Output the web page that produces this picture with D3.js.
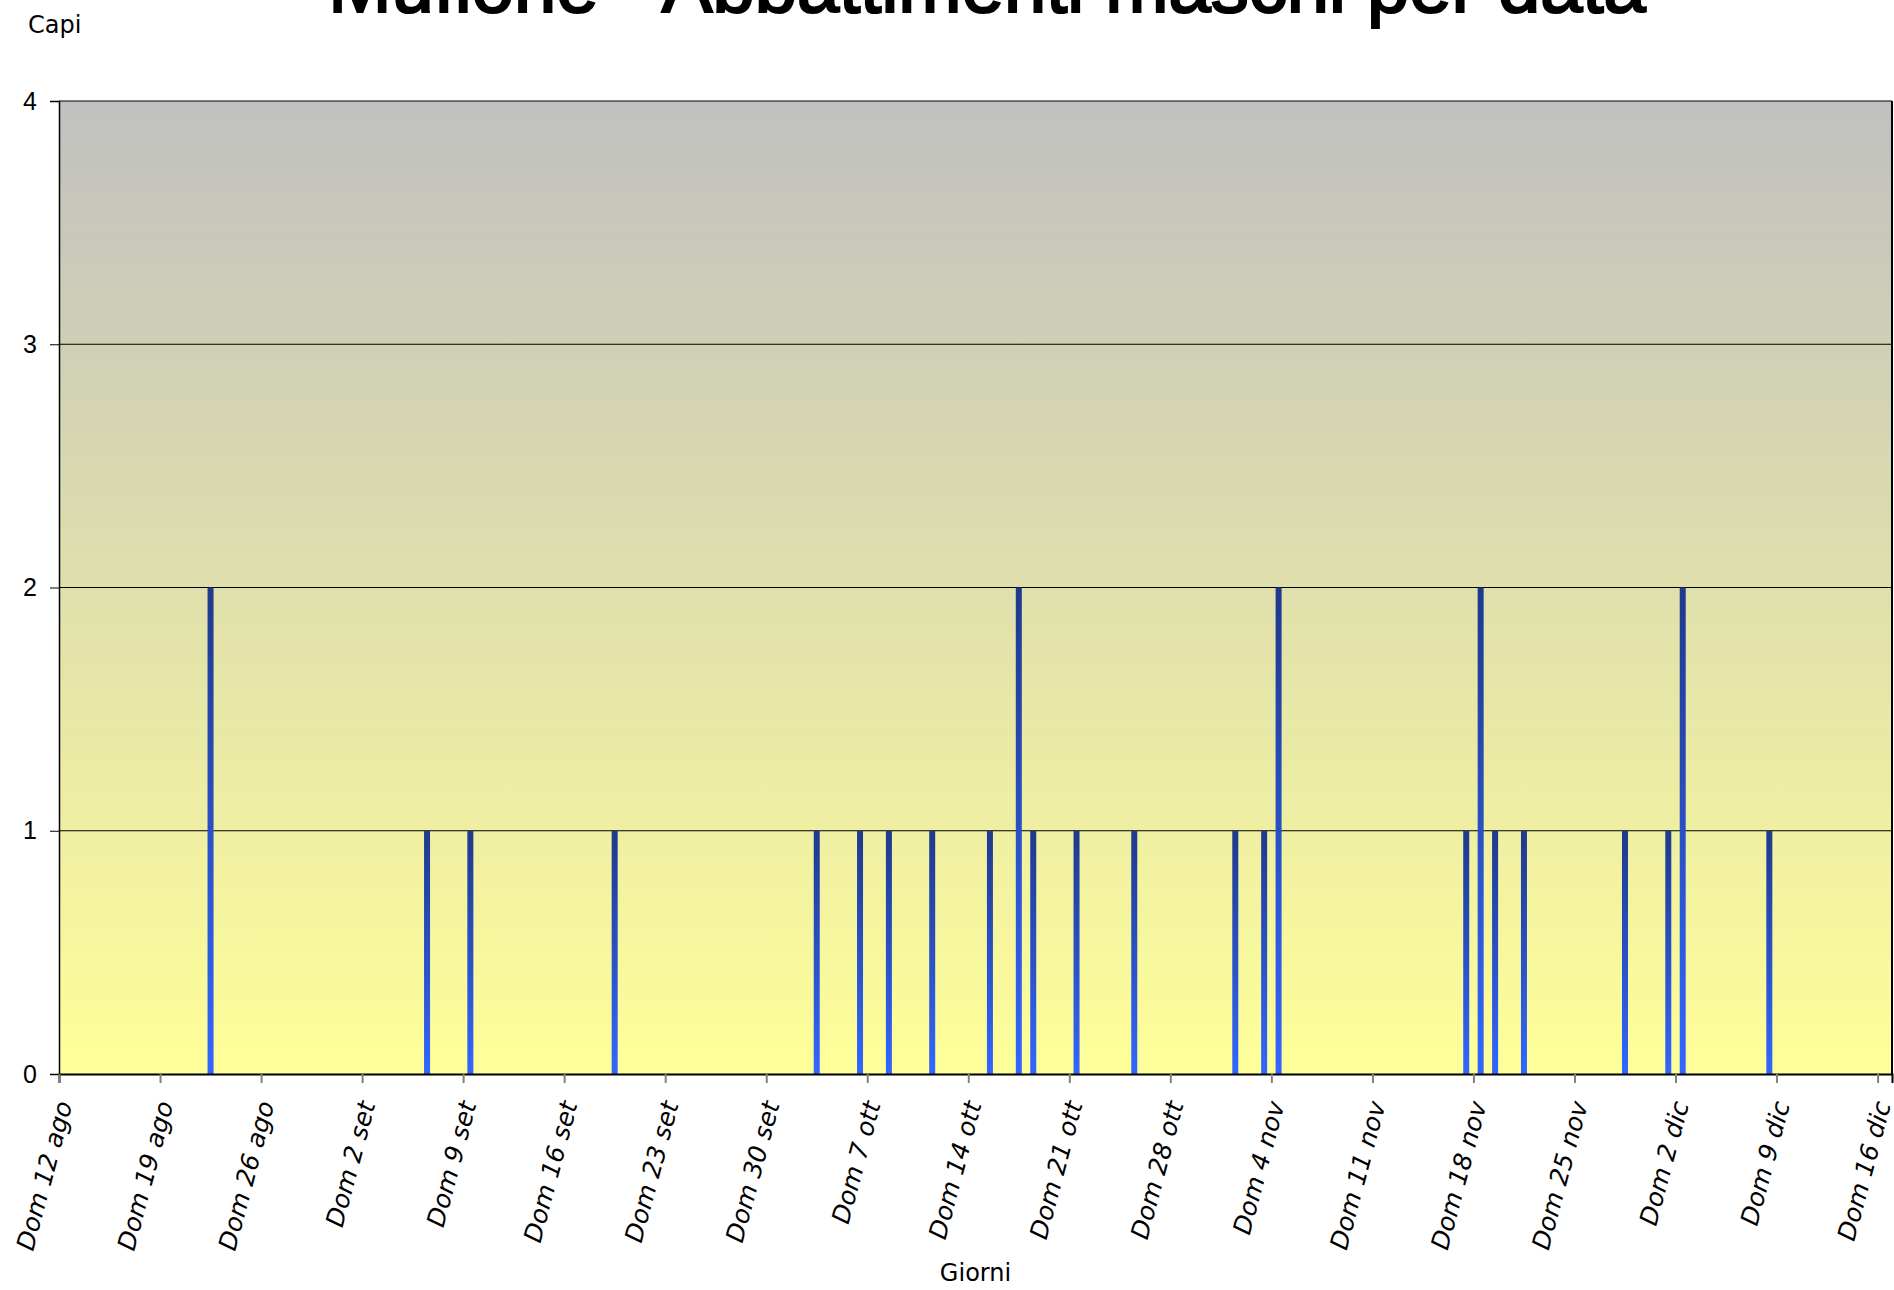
<!DOCTYPE html>
<html>
<head>
<meta charset="utf-8">
<script src="https://cdn.jsdelivr.net/npm/d3@7"></script>
<style>
  body { margin: 0; background: #fff; }
  svg { display: block; }
</style>
</head>
<body>
<div id="chart"></div>
<script>
// kill dates and heads shot that day (males)
var killDates = [
  '2007-08-22', '2007-09-06', '2007-09-09', '2007-09-19', '2007-10-03',
  '2007-10-06', '2007-10-08', '2007-10-11', '2007-10-15', '2007-10-17',
  '2007-10-18', '2007-10-21', '2007-10-25', '2007-11-01', '2007-11-03',
  '2007-11-04', '2007-11-17', '2007-11-18', '2007-11-19', '2007-11-21',
  '2007-11-28', '2007-12-01', '2007-12-02', '2007-12-08'
];
var killCounts = [2, 1, 1, 1, 1, 1, 1, 1, 1, 2, 1, 1, 1, 1, 1, 2, 1, 2, 1, 1, 1, 1, 2, 1];

var tickDates = [
  '2007-08-12', '2007-08-19', '2007-08-26', '2007-09-02', '2007-09-09',
  '2007-09-16', '2007-09-23', '2007-09-30', '2007-10-07', '2007-10-14',
  '2007-10-21', '2007-10-28', '2007-11-04', '2007-11-11', '2007-11-18',
  '2007-11-25', '2007-12-02', '2007-12-09', '2007-12-16'
];
var tickLabels = [
  'Dom 12 ago', 'Dom 19 ago', 'Dom 26 ago', 'Dom 2 set', 'Dom 9 set',
  'Dom 16 set', 'Dom 23 set', 'Dom 30 set', 'Dom 7 ott', 'Dom 14 ott',
  'Dom 21 ott', 'Dom 28 ott', 'Dom 4 nov', 'Dom 11 nov', 'Dom 18 nov',
  'Dom 25 nov', 'Dom 2 dic', 'Dom 9 dic', 'Dom 16 dic'
];
var yTicks = [0, 1, 2, 3, 4];

var parse = d3.timeParse('%Y-%m-%d');
var W = 1894, H = 1290;
var plotL = 59, plotR = 1892, plotT = 101, plotB = 1074;

var svg = d3.select('#chart').append('svg')
  .attr('width', W).attr('height', H);

var defs = svg.append('defs');
var bg = defs.append('linearGradient').attr('id', 'bg')
  .attr('x1', 0).attr('y1', 0).attr('x2', 0).attr('y2', 1);
bg.append('stop').attr('offset', '0%').attr('stop-color', '#c0c0c0');
bg.append('stop').attr('offset', '100%').attr('stop-color', '#ffff99');

var barGrad = defs.append('linearGradient').attr('id', 'barGrad')
  .attr('x1', 0).attr('y1', 0).attr('x2', 0).attr('y2', 1);
barGrad.append('stop').attr('offset', '0%').attr('stop-color', '#1f3a8c');
barGrad.append('stop').attr('offset', '100%').attr('stop-color', '#3366ff');

var x = d3.scaleTime()
  .domain([parse('2007-08-12'), parse('2007-12-17')])
  .range([plotL, plotR]);
var y = d3.scaleLinear().domain([0, 4]).range([plotB, plotT]);
var dayW = x(parse('2007-08-13')) - x(parse('2007-08-12'));
var barW = 6;

// plot background
svg.append('rect')
  .attr('x', plotL).attr('y', plotT)
  .attr('width', plotR - plotL).attr('height', plotB - plotT)
  .attr('fill', 'url(#bg)');

// grid
svg.append('g').selectAll('line')
  .data(yTicks.slice(1))
  .enter().append('line')
  .attr('x1', plotL).attr('x2', plotR)
  .attr('y1', function(d) { return y(d); })
  .attr('y2', function(d) { return y(d); })
  .attr('stroke', '#000').attr('stroke-width', 1);

// bars
svg.append('g').selectAll('rect')
  .data(killDates)
  .enter().append('rect')
  .attr('x', function(d) { return x(parse(d)) + (dayW - barW) / 2; })
  .attr('y', function(d, i) { return y(killCounts[i]); })
  .attr('width', barW)
  .attr('height', function(d, i) { return y(0) - y(killCounts[i]); })
  .attr('fill', 'url(#barGrad)');

// frame right side
svg.append('line')
  .attr('x1', plotR).attr('x2', plotR).attr('y1', plotT).attr('y2', plotB)
  .attr('stroke', '#000').attr('stroke-width', 2);

// y axis
var yAxis = svg.append('g')
  .attr('transform', 'translate(' + plotL + ',0)')
  .call(d3.axisLeft(y).tickValues(yTicks).tickFormat(d3.format('d')).tickSize(9).tickPadding(13));
yAxis.select('.domain').attr('stroke', '#000').attr('stroke-width', 1.5);
yAxis.selectAll('.tick line').attr('stroke', '#000');
yAxis.selectAll('.tick text')
  .attr('font-family', 'Liberation Sans, Arial, sans-serif')
  .attr('font-size', 25).attr('fill', '#000');

// x axis
var xAxis = svg.append('g')
  .attr('transform', 'translate(0,' + plotB + ')')
  .call(d3.axisBottom(x).tickValues(tickDates.map(parse))
    .tickFormat(function(d, i) { return tickLabels[i]; }).tickSize(9));
xAxis.select('.domain').attr('stroke', '#000').attr('stroke-width', 2);
xAxis.selectAll('.tick line').attr('stroke', '#808080').attr('stroke-width', 2);
xAxis.selectAll('.tick text')
  .attr('font-family', 'DejaVu Sans, sans-serif')
  .attr('font-style', 'italic')
  .attr('font-size', 25).attr('fill', '#000')
  .attr('text-anchor', 'end')
  .attr('y', 0).attr('dy', 0)
  .attr('transform', 'translate(13,30) rotate(-75)');

// titles
var title = svg.append('text')
  .attr('x', 987).attr('y', 12)
  .attr('text-anchor', 'middle')
  .attr('font-family', 'Liberation Sans, Arial, sans-serif')
  .attr('font-size', 70)
  .attr('fill', '#000')
  .attr('stroke', '#000').attr('stroke-width', 2.2)
  .text('Muflone - Abbattimenti maschi per data');
var tl = title.node().getComputedTextLength();
title.attr('font-size', 70 * 1318 / tl);

svg.append('text')
  .attr('x', 28).attr('y', 33)
  .attr('font-family', 'DejaVu Sans, sans-serif')
  .attr('font-size', 24).attr('fill', '#000')
  .text('Capi');

svg.append('text')
  .attr('x', (plotL + plotR) / 2).attr('y', 1281)
  .attr('text-anchor', 'middle')
  .attr('font-family', 'DejaVu Sans, sans-serif')
  .attr('font-size', 24).attr('fill', '#000')
  .text('Giorni');
</script>
</body>
</html>
